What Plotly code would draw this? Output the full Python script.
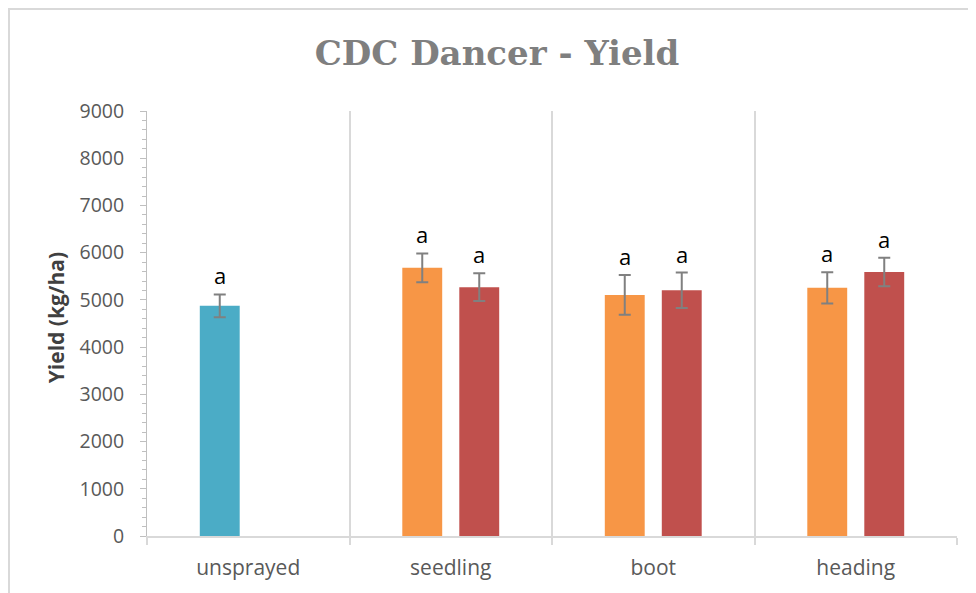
import plotly.graph_objects as go

categories = ["unsprayed", "seedling", "boot", "heading"]
series1 = [4875, 5680, 5105, 5255]
err1 = [240, 305, 420, 330]
series2 = [None, 5270, 5205, 5590]
err2 = [None, 295, 375, 300]
labels1 = ["a", "a", "a", "a"]
labels2 = [None, "a", "a", "a"]
colors1 = ["#4BACC6", "#F79646", "#F79646", "#F79646"]
color2 = "#C0504D"

fig = go.Figure()
fig.add_trace(go.Bar(
    x=categories, y=series1, marker=dict(color=colors1, line=dict(width=0)),
    error_y=dict(type="data", array=err1, color="#808080", thickness=2, width=6),
    showlegend=False,
))
fig.add_trace(go.Bar(
    x=categories, y=series2, marker=dict(color=color2, line=dict(width=0)),
    error_y=dict(type="data", array=[e if e is not None else 0 for e in err2],
                 color="#808080", thickness=2, width=6),
    showlegend=False,
))

annotations = []
for cat, v, e, lab in zip(categories, series1, err1, labels1):
    if lab:
        annotations.append(dict(x=cat, y=v + e, xref="x", yref="y", text=lab, showarrow=False,
                                xshift=-28.5, yshift=19, yanchor="middle",
                                font=dict(family="Open Sans", size=22, color="#000000")))
for cat, v, e, lab in zip(categories, series2, err2, labels2):
    if lab:
        annotations.append(dict(x=cat, y=v + e, xref="x", yref="y", text=lab, showarrow=False,
                                xshift=28.5, yshift=19, yanchor="middle",
                                font=dict(family="Open Sans", size=22, color="#000000")))

annotations.append(dict(
    x=-0.112, y=0.513, xref="paper", yref="paper", text="<b>Yield (kg/ha)</b>",
    textangle=-90, showarrow=False, xanchor="center", yanchor="middle",
    font=dict(family="Open Sans", size=21, color="#404040")))

# page body has an 8px default margin, so the figure is 8px smaller and offsets are shifted
fig.update_layout(
    width=968, height=585,
    margin=dict(l=139, r=19, t=103, b=57, autoexpand=False),
    paper_bgcolor="white", plot_bgcolor="white",
    barmode="group", bargap=0.437, bargroupgap=0.3,
    title=dict(text="<b>CDC Dancer - Yield</b>", x=489 / 968, xref="container", xanchor="center",
               y=1 - 45 / 585, yref="container", yanchor="middle",
               font=dict(family="DejaVu Serif", size=34, color="#7F7F7F")),
    annotations=annotations,
    shapes=[dict(type="rect", xref="paper", yref="paper", x0=-0.1704, x1=1.06, y0=-0.2, y1=1.2400,
                 line=dict(color="#D9D9D9", width=2), fillcolor="rgba(0,0,0,0)", layer="below")],
    xaxis=dict(type="category", tickson="boundaries", ticks="outside", ticklen=7,
               tickcolor="#D9D9D9", tickwidth=2, automargin=False,
               showgrid=True, gridcolor="#D9D9D9", gridwidth=2,
               showline=True, linecolor="#D9D9D9", linewidth=2,
               tickfont=dict(family="Open Sans", size=21, color="#595959"),
               ticklabelstandoff=12),
    yaxis=dict(range=[0, 9000], dtick=1000, ticks="outside", ticklen=6,
               tickcolor="#BFBFBF", tickwidth=1, automargin=False,
               showgrid=False, zeroline=False,
               showline=True, linecolor="#BFBFBF", linewidth=1,
               minor=dict(dtick=200, ticks="outside", ticklen=4, tickcolor="#BFBFBF", tickwidth=1, showgrid=False),
               tickfont=dict(family="Open Sans", size=19.5, color="#595959"),
               ticklabelstandoff=12),
)

fig.write_html("out.html")
